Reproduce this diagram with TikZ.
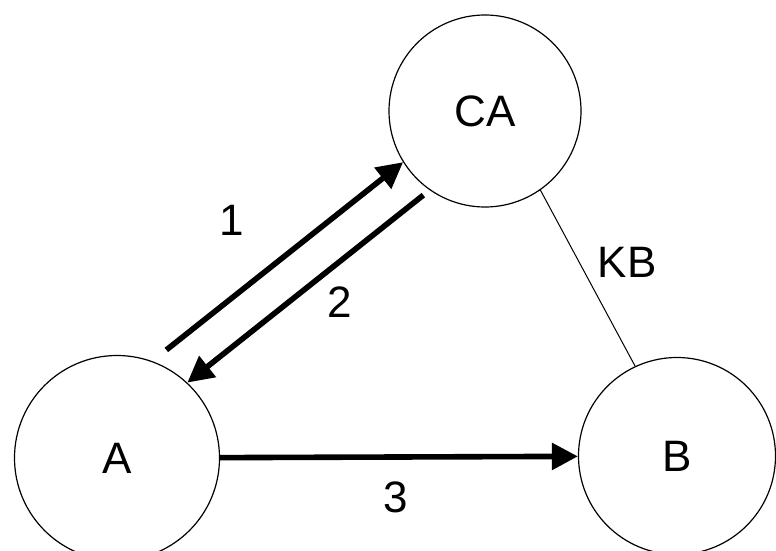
\documentclass[tikz,border=0pt]{standalone}
\usepackage{fontspec}
\setmainfont{Liberation Sans}
\usetikzlibrary{arrows.meta}

\begin{document}
\begin{tikzpicture}[
    x=0.5pt, y=-0.5pt,
    party/.style={draw, circle, inner sep=0pt, line width=0.6pt, font=\fontsize{22}{26}\selectfont},
    lbl/.style={font=\fontsize{22}{26}\selectfont},
    arr/.style={-{Triangle[length=13pt,width=13pt]}, line width=2.8pt},
    link/.style={line width=0.5pt}]
  \useasboundingbox (0,0) rectangle (776,551);
  % the three parties
  \node[party, minimum size=96pt] (CA) at (485,111) {CA};
  \node[party, minimum size=102.5pt] (A) at (117,458) {A};
  \node[party, minimum size=98.5pt] (B) at (677,456) {B};
  % messages between them
  \draw[arr, shorten <=9pt] (A.70) -- (CA.212);
  \draw[arr, shorten <=4pt] (CA.235) -- (A.47);
  \draw[arr] (A) -- (B);
  \draw[link] (CA.305) -- (B.115);
  % labels
  \node[lbl] (l1) at (232,220) {1};
  \node[lbl] (l2) at (340,302) {2};
  \node[lbl] (l3) at (396,497) {3};
  \node[lbl] (kb) at (627,262) {KB};
\end{tikzpicture}
\end{document}
